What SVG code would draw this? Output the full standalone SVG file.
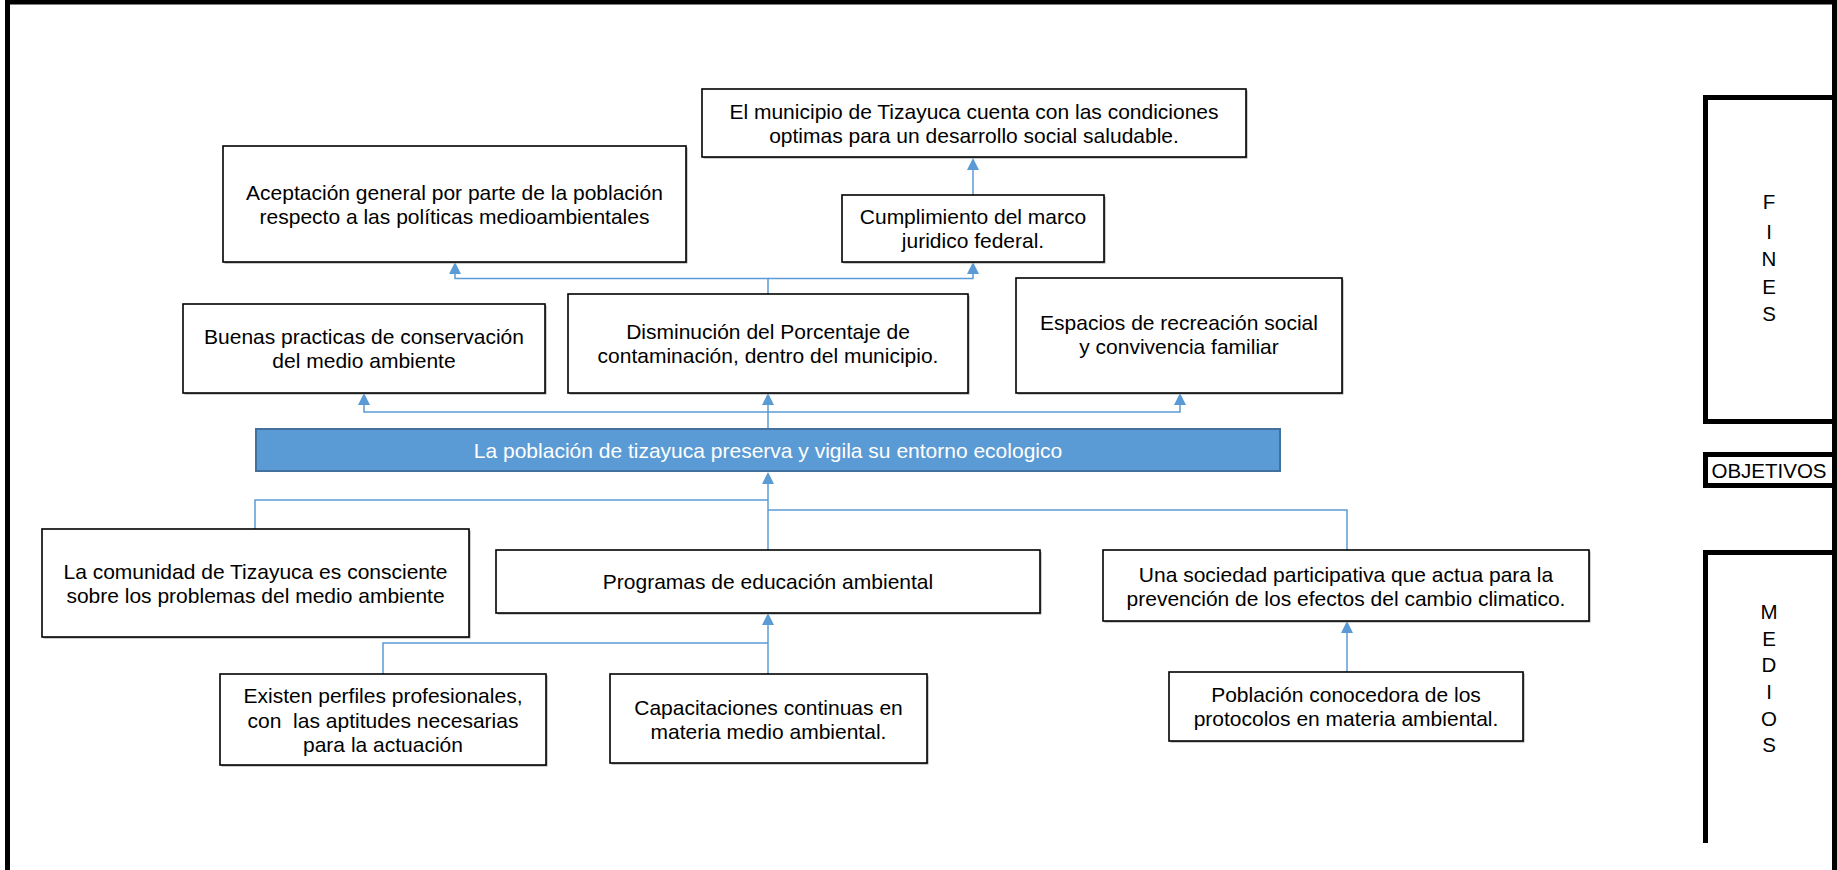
<svg xmlns="http://www.w3.org/2000/svg" width="1837" height="870" viewBox="0 0 1837 870">
<style>
  .box { fill: #ffffff; stroke: #000000; stroke-width: 1.6; }
  .sh { fill: #9a9a9a; }
  .t { font-family: "Liberation Sans", Arial, sans-serif; font-size: 21px; fill: #000000; text-anchor: middle; white-space: pre; }
  .tw { font-family: "Liberation Sans", Arial, sans-serif; font-size: 21px; fill: #ffffff; text-anchor: middle; }
  .side { font-family: "Liberation Sans", Arial, sans-serif; font-size: 20.5px; fill: #000000; text-anchor: middle; }
  .frame { fill: none; stroke: #000000; stroke-width: 5; }
  .conn { fill: none; stroke: #5B9BD5; stroke-width: 1.5; }
  .arr { marker-end: url(#ah); }
</style>
<defs>
  <marker id="ah" viewBox="0 0 12 12" refX="0" refY="6" markerWidth="12" markerHeight="12" markerUnits="userSpaceOnUse" orient="auto">
    <path d="M0,0 L12,6 L0,12 z" fill="#5B9BD5"/>
  </marker>
</defs>
<rect x="0" y="0" width="1837" height="870" fill="#ffffff"/>

<!-- outer frame -->
<g id="frame">
  <path class="frame" d="M7.5 870 V2 H1834.5 V870"/>
  <path class="frame" d="M1834.5 97.5 H1705.5 V421.5 H1834.5"/>
  <path class="frame" d="M1834.5 454.5 H1705.5 V485.5 H1834.5"/>
  <path class="frame" d="M1834.5 552.5 H1705.5 V843"/>
</g>

<g id="fines">
  <text class="side" x="1769" y="209">F</text>
  <text class="side" x="1769" y="239">I</text>
  <text class="side" x="1769" y="266">N</text>
  <text class="side" x="1769" y="294">E</text>
  <text class="side" x="1769" y="321">S</text>
</g>
<g id="objetivos">
  <text class="side" x="1769" y="478">OBJETIVOS</text>
</g>
<g id="medios">
  <text class="side" x="1769" y="619">M</text>
  <text class="side" x="1769" y="646">E</text>
  <text class="side" x="1769" y="672">D</text>
  <text class="side" x="1769" y="699">I</text>
  <text class="side" x="1769" y="726">O</text>
  <text class="side" x="1769" y="752">S</text>
</g>

<!-- connectors -->
<g id="connectors">
  <path class="conn arr" d="M973 195 V170"/>
  <path class="conn arr" d="M768 294 V278.5 H455 V274"/>
  <path class="conn arr" d="M768 278.5 H973 V274"/>
  <path class="conn arr" d="M768 429 V412 H364 V405"/>
  <path class="conn arr" d="M768 412 V405"/>
  <path class="conn arr" d="M768 412 H1180 V405"/>
  <path class="conn arr" d="M768 550 V484"/>
  <path class="conn" d="M255 529 V500 H768"/>
  <path class="conn" d="M1347 550 V510 H768"/>
  <path class="conn arr" d="M768 674 V625"/>
  <path class="conn" d="M383 674 V643 H768"/>
  <path class="conn arr" d="M1347 672 V633"/>
</g>

<g id="n-municipio">
  <rect class="sh" x="703.5" y="90.5" width="544" height="68"/>
  <rect class="box" x="702" y="89" width="544" height="68"/>
  <text class="t" x="974" y="119">El municipio de Tizayuca cuenta con las condiciones</text>
  <text class="t" x="974" y="143">optimas para un desarrollo social saludable.</text>
</g>
<g id="n-aceptacion">
  <rect class="sh" x="224.5" y="147.5" width="463" height="116"/>
  <rect class="box" x="223" y="146" width="463" height="116"/>
  <text class="t" x="454.5" y="200">Aceptación general por parte de la población</text>
  <text class="t" x="454.5" y="224">respecto a las políticas medioambientales</text>
</g>
<g id="n-cumplimiento">
  <rect class="sh" x="843.5" y="196.5" width="262" height="67"/>
  <rect class="box" x="842" y="195" width="262" height="67"/>
  <text class="t" x="973" y="224">Cumplimiento del marco</text>
  <text class="t" x="973" y="248">juridico federal.</text>
</g>
<g id="n-buenas">
  <rect class="sh" x="184.5" y="305.5" width="362" height="89"/>
  <rect class="box" x="183" y="304" width="362" height="89"/>
  <text class="t" x="364" y="344">Buenas practicas de conservación</text>
  <text class="t" x="364" y="368">del medio ambiente</text>
</g>
<g id="n-disminucion">
  <rect class="sh" x="569.5" y="295.5" width="400" height="99"/>
  <rect class="box" x="568" y="294" width="400" height="99"/>
  <text class="t" x="768" y="339">Disminución del Porcentaje de</text>
  <text class="t" x="768" y="363">contaminación, dentro del municipio.</text>
</g>
<g id="n-espacios">
  <rect class="sh" x="1017.5" y="279.5" width="326" height="115"/>
  <rect class="box" x="1016" y="278" width="326" height="115"/>
  <text class="t" x="1179" y="330">Espacios de recreación social</text>
  <text class="t" x="1179" y="354">y convivencia familiar</text>
</g>
<g id="n-central">
  <rect x="256" y="429" width="1024" height="42" fill="#5B9BD5" stroke="#41719C" stroke-width="2"/>
  <text class="tw" x="768" y="457.5">La población de tizayuca preserva y vigila su entorno ecologico</text>
</g>
<g id="n-comunidad">
  <rect class="sh" x="43.5" y="530.5" width="427" height="108"/>
  <rect class="box" x="42" y="529" width="427" height="108"/>
  <text class="t" x="255.5" y="579">La comunidad de Tizayuca es consciente</text>
  <text class="t" x="255.5" y="603">sobre los problemas del medio ambiente</text>
</g>
<g id="n-programas">
  <rect class="sh" x="497.5" y="551.5" width="544" height="63"/>
  <rect class="box" x="496" y="550" width="544" height="63"/>
  <text class="t" x="768" y="589">Programas de educación ambiental</text>
</g>
<g id="n-sociedad">
  <rect class="sh" x="1104.5" y="551.5" width="486" height="71"/>
  <rect class="box" x="1103" y="550" width="486" height="71"/>
  <text class="t" x="1346" y="582">Una sociedad participativa que actua para la</text>
  <text class="t" x="1346" y="606">prevención de los efectos del cambio climatico.</text>
</g>
<g id="n-existen">
  <rect class="sh" x="221.5" y="675.5" width="326" height="91"/>
  <rect class="box" x="220" y="674" width="326" height="91"/>
  <text class="t" x="383" y="703">Existen perfiles profesionales,</text>
  <text class="t" x="383" y="727.5">con  las aptitudes necesarias</text>
  <text class="t" x="383" y="752">para la actuación</text>
</g>
<g id="n-capacitaciones">
  <rect class="sh" x="611.5" y="675.5" width="317" height="89"/>
  <rect class="box" x="610" y="674" width="317" height="89"/>
  <text class="t" x="768.5" y="715">Capacitaciones continuas en</text>
  <text class="t" x="768.5" y="739">materia medio ambiental.</text>
</g>
<g id="n-poblacion">
  <rect class="sh" x="1170.5" y="673.5" width="354" height="69"/>
  <rect class="box" x="1169" y="672" width="354" height="69"/>
  <text class="t" x="1346" y="702">Población conocedora de los</text>
  <text class="t" x="1346" y="726">protocolos en materia ambiental.</text>
</g>
</svg>
